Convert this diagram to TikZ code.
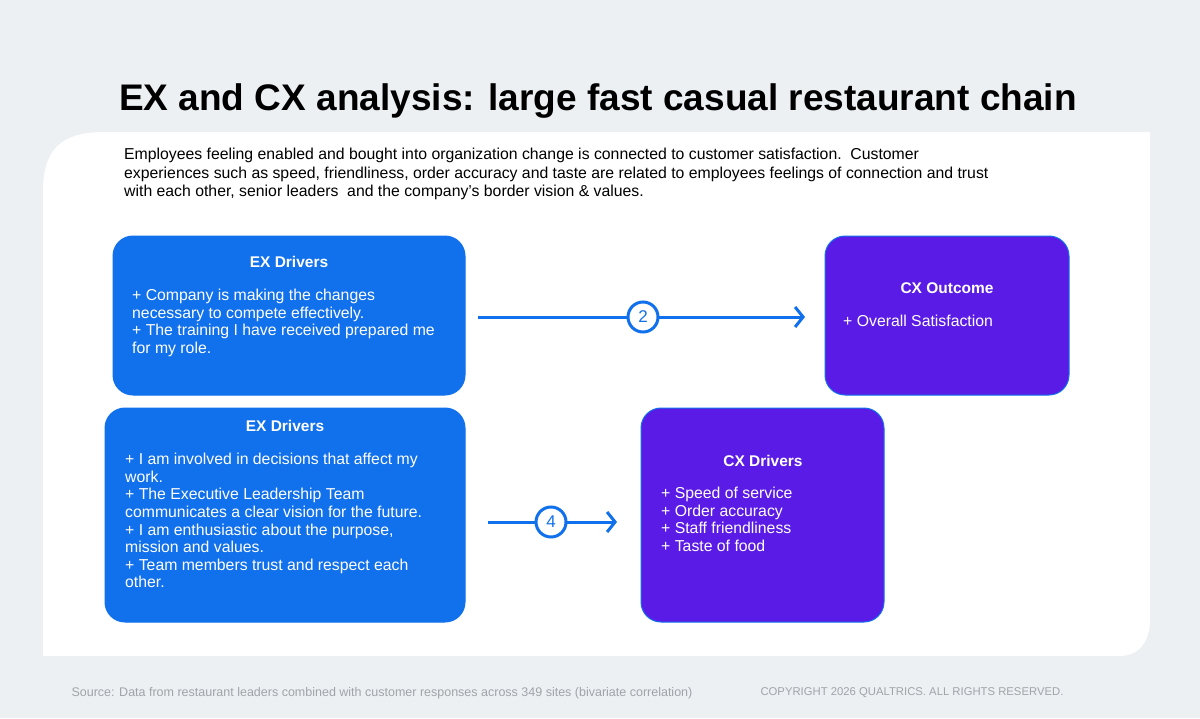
\documentclass[tikz,border=0pt]{standalone}
\usepackage{fontspec}
\setmainfont{Liberation Sans}
\usetikzlibrary{arrows.meta}
\definecolor{bg}{HTML}{ECF0F3}
\definecolor{exblue}{HTML}{1170EB}
\definecolor{cxpur}{HTML}{5B1BE6}
\definecolor{foot}{HTML}{A0A4A8}
\tikzset{
 box/.style={rounded corners=20pt,line width=1pt},
 ex/.style={box,fill=exblue,draw=exblue},
 cx/.style={box,fill=cxpur,draw=exblue},
 hd/.style={text=white,font=\fontsize{15.5}{17}\selectfont\bfseries,anchor=center},
 bd/.style={text=white,font=\fontsize{15.8}{17.6}\selectfont,anchor=north west,align=left,inner sep=0pt},
 arr/.style={draw=exblue,line width=3pt,-{Straight Barb[length=8pt,width=20pt,line width=3pt]}},
 num/.style={circle,draw=exblue,line width=3pt,fill=white,minimum size=30pt,inner sep=0pt,text=exblue,font=\fontsize{17}{17}\selectfont}
}
\begin{document}
\begin{tikzpicture}[x=1pt,y=-1pt]
\useasboundingbox (0,0) rectangle (1200,718);
\fill[bg] (0,0) rectangle (1200,718);
\fill[white] (43,656) -- (43,192) .. controls (43,150) and (60,132) .. (105,132) -- (1150,132) -- (1150,620) .. controls (1150,640) and (1140,656) .. (1120,656) -- cycle;
\node[font=\fontsize{37}{40}\selectfont\bfseries,anchor=center] (title) at (598,101) {EX and CX analysis: large fast casual restaurant chain};
\node[anchor=north west,inner sep=0pt,align=left,font=\fontsize{15.8}{18.5}\selectfont] (intro) at (124,148) {Employees feeling enabled and bought into organization change is connected to customer satisfaction.\ \ Customer\\experiences such as speed, friendliness, order accuracy and taste are related to employees feelings of connection and trust\\with each other, senior leaders\ \ and the company's border vision \& values.};

\draw[ex] (113,236) rectangle (465,395);
\node[hd] (h1) at (289,262) {EX Drivers};
\node[bd] (b1) at (132,289) {+ Company is making the changes\\necessary to compete effectively.\\+ The training I have received prepared me\\for my role.};

\draw[ex] (105,408) rectangle (465,622);
\node[hd] (h2) at (285,426) {EX Drivers};
\node[bd] (b2) at (125,453) {+ I am involved in decisions that affect my\\work.\\+ The Executive Leadership Team\\communicates a clear vision for the future.\\+ I am enthusiastic about the purpose,\\mission and values.\\+ Team members trust and respect each\\other.};

\draw[cx] (825,236) rectangle (1069,395);
\node[hd] (h3) at (947,288) {CX Outcome};
\node[bd] (b3) at (843,315) {+ Overall Satisfaction};

\draw[cx] (641,408) rectangle (884,622);
\node[hd] (h4) at (763,461) {CX Drivers};
\node[bd] (b4) at (661,487) {+ Speed of service\\+ Order accuracy\\+ Staff friendliness\\+ Taste of food};

\coordinate (a1s) at (478,317); \coordinate (a1e) at (805,317);
\coordinate (a2s) at (488,522); \coordinate (a2e) at (617,522);
\draw[arr] (a1s) -- (a1e);
\draw[arr] (a2s) -- (a2e);
\node[num] (n2) at (643,317) {2};
\node[num] (n4) at (551,522) {4};

\node[anchor=west,text=foot,font=\fontsize{12.5}{14}\selectfont] (src) at (68,693) {Source: Data from restaurant leaders combined with customer responses across 349 sites (bivariate correlation)};
\node[anchor=west,text=foot,font=\fontsize{11.3}{14}\selectfont] (copy) at (757,693) {COPYRIGHT 2026 QUALTRICS. ALL RIGHTS RESERVED.};
\end{tikzpicture}
\end{document}
